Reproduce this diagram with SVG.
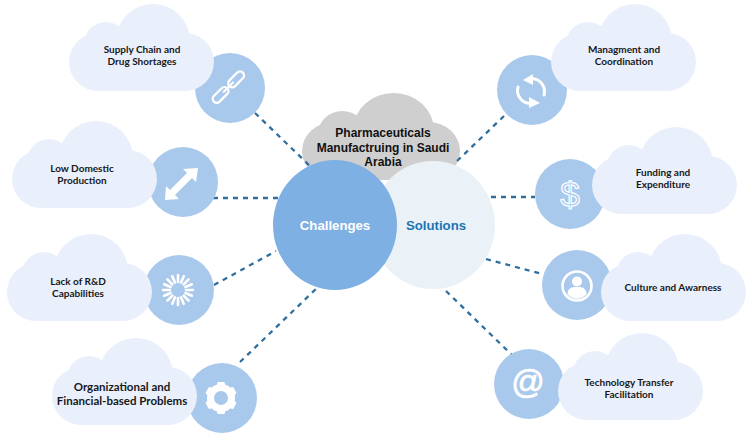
<svg xmlns="http://www.w3.org/2000/svg" width="753" height="443" viewBox="0 0 753 443">
<style>
.bg{fill:#ffffff}
.cloud{fill:#e9f0fb}
.disc{fill:#a9c9ec}
.lbl{font-family:"Lato","Liberation Sans",sans-serif;font-weight:700;font-size:10px;fill:#17181a;text-anchor:middle}
.big{font-size:11.5px}
.head{font-family:"Liberation Sans",Arial,sans-serif;font-weight:700;text-anchor:middle}
.ln{stroke:#2f6f9f;stroke-width:2.3;stroke-dasharray:5 5;fill:none}
.ic{fill:none;stroke:#ffffff;stroke-linecap:round;stroke-linejoin:round}
.icf{fill:#ffffff;stroke:none}
</style>
<defs>
<g id="cl">
<circle cx="84" cy="37" r="37"/>
<circle cx="37" cy="40" r="22"/>
<circle cx="29" cy="58" r="29"/>
<circle cx="116" cy="58" r="29"/>
<rect x="29" y="35" width="87" height="52"/>
</g>
</defs>
<rect class="bg" width="753" height="443"/>

<g id="node-title">
<use href="#cl" style="fill:#cfcfcf" transform="translate(302,93) scale(1.09,1)"/>
<text class="head" font-size="12" fill="#111" x="383" y="137">Pharmaceuticals</text>
<text class="head" font-size="12" fill="#111" x="383" y="152">Manufactruing in Saudi</text>
<text class="head" font-size="12" fill="#111" x="383" y="166">Arabia</text>
</g>

<g id="connectors">
<line class="ln" x1="255" y1="113" x2="311" y2="167"/>
<line class="ln" x1="213" y1="198" x2="278" y2="198"/>
<line class="ln" x1="214" y1="285" x2="276" y2="251"/>
<line class="ln" x1="240" y1="362" x2="318" y2="287"/>
<line class="ln" x1="504" y1="116" x2="456" y2="162"/>
<line class="ln" x1="491" y1="197" x2="535" y2="197"/>
<line class="ln" x1="486" y1="259" x2="542" y2="274"/>
<line class="ln" x1="446" y1="291" x2="513" y2="356"/>
</g>

<g id="node-solutions">
<ellipse cx="433" cy="225" rx="62" ry="64" fill="#ebf2f7"/>
<text class="head" font-size="13.2" fill="#1c74b4" x="436" y="230">Solutions</text>
</g>
<g id="node-challenges">
<ellipse cx="335" cy="225" rx="62" ry="65" fill="#7fb0e3"/>
<text class="head" font-size="13.2" fill="#ffffff" x="335" y="230">Challenges</text>
</g>

<g id="node-supply">
<circle class="disc" cx="230" cy="88" r="35"/>
<use href="#cl" class="cloud" x="69" y="4"/>
<g transform="translate(228,87.5) rotate(-45)" class="ic" stroke-width="2.3">
<rect x="-20" y="-4" width="19" height="8" rx="4"/>
<rect x="2" y="-4" width="19" height="8" rx="4"/>
<line x1="-6" y1="0" x2="7" y2="0"/>
</g>
<text class="lbl" x="142" y="53">Supply Chain and</text>
<text class="lbl" x="142" y="65">Drug Shortages</text>
</g>

<g id="node-low">
<circle class="disc" cx="183" cy="182" r="35"/>
<use href="#cl" class="cloud" x="12" y="121"/>
<path class="icf" d="M198 168 L196 182 L192 178 L175 195 L179 199 L165 200 L166 186 L170 190 L187 173 L183 169 Z"/>
<text class="lbl" x="82" y="172">Low Domestic</text>
<text class="lbl" x="82" y="184">Production</text>
</g>

<g id="node-lack">
<circle class="disc" cx="179" cy="290" r="35"/>
<use href="#cl" class="cloud" x="7" y="234"/>
<g class="ic" stroke-width="2.6" transform="translate(178,290)">
<line x1="0" y1="-8" x2="0" y2="-15"/>
<line x1="0" y1="-8" x2="0" y2="-15" transform="rotate(22.5)"/>
<line x1="0" y1="-8" x2="0" y2="-15" transform="rotate(45)"/>
<line x1="0" y1="-8" x2="0" y2="-15" transform="rotate(67.5)"/>
<line x1="0" y1="-8" x2="0" y2="-15" transform="rotate(90)"/>
<line x1="0" y1="-8" x2="0" y2="-15" transform="rotate(112.5)"/>
<line x1="0" y1="-8" x2="0" y2="-15" transform="rotate(135)"/>
<line x1="0" y1="-8" x2="0" y2="-15" transform="rotate(157.5)"/>
<line x1="0" y1="-8" x2="0" y2="-15" transform="rotate(180)"/>
<line x1="0" y1="-8" x2="0" y2="-15" transform="rotate(202.5)"/>
<line x1="0" y1="-8" x2="0" y2="-15" transform="rotate(225)"/>
<line x1="0" y1="-8" x2="0" y2="-15" transform="rotate(247.5)"/>
<line x1="0" y1="-8" x2="0" y2="-15" transform="rotate(270)"/>
<line x1="0" y1="-8" x2="0" y2="-15" transform="rotate(292.5)"/>
<line x1="0" y1="-8" x2="0" y2="-15" transform="rotate(315)"/>
<line x1="0" y1="-8" x2="0" y2="-15" transform="rotate(337.5)"/>
</g>
<text class="lbl" x="78" y="285">Lack of R&amp;D</text>
<text class="lbl" x="78" y="297">Capabilities</text>
</g>

<g id="node-org">
<circle class="disc" cx="222" cy="398" r="35"/>
<use href="#cl" class="cloud" x="52" y="338"/>
<g transform="translate(221,398)">
<circle r="10.5" fill="none" stroke="#ffffff" stroke-width="7"/>
<g class="icf">
<rect x="-4" y="-16" width="8" height="7" rx="1.5"/>
<rect x="-4" y="-16" width="8" height="7" rx="1.5" transform="rotate(60)"/>
<rect x="-4" y="-16" width="8" height="7" rx="1.5" transform="rotate(120)"/>
<rect x="-4" y="-16" width="8" height="7" rx="1.5" transform="rotate(180)"/>
<rect x="-4" y="-16" width="8" height="7" rx="1.5" transform="rotate(240)"/>
<rect x="-4" y="-16" width="8" height="7" rx="1.5" transform="rotate(300)"/>
</g>
</g>
<text class="lbl big" x="122" y="391">Organizational and</text>
<text class="lbl big" x="122" y="405">Financial-based Problems</text>
</g>

<g id="node-mgmt">
<circle class="disc" cx="532" cy="90" r="35"/>
<use href="#cl" class="cloud" x="551" y="4"/>
<g transform="translate(531,91)">
<path class="ic" stroke-width="3" stroke-linecap="butt" d="M1 -12.5 A13 13 0 0 1 13 4 M-1 12.5 A13 13 0 0 1 -13 -4"/>
<path class="icf" d="M2 -17 L2 -6 L-8 -11 Z M-2 17 L-2 6 L9 12 Z"/>
</g>
<text class="lbl" x="624" y="53">Managment and</text>
<text class="lbl" x="624" y="65">Coordination</text>
</g>

<g id="node-funding">
<circle class="disc" cx="570" cy="194" r="35"/>
<use href="#cl" class="cloud" x="592" y="127"/>
<text x="570" y="207" font-family="'Liberation Sans',Arial,sans-serif" font-size="35" text-anchor="middle" fill="#a9c9ec" stroke="#ffffff" stroke-width="1.2">$</text>
<text class="lbl" x="663" y="176">Funding and</text>
<text class="lbl" x="663" y="188">Expenditure</text>
</g>

<g id="node-culture">
<circle class="disc" cx="577" cy="285" r="35"/>
<use href="#cl" class="cloud" x="601" y="234"/>
<g transform="translate(577,286)">
<circle r="14.5" fill="none" stroke="#ffffff" stroke-width="2.6"/>
<circle cy="-4.5" r="5" fill="#ffffff"/>
<path class="icf" d="M-9.5 8 C-9.5 3 -6 1.5 -3 1 L3 1 C6 1.5 9.5 3 9.5 8 A12 12 0 0 1 -9.5 8 Z"/>
</g>
<text class="lbl" x="673" y="291">Culture and Awarness</text>
</g>

<g id="node-tech">
<circle class="disc" cx="529" cy="384" r="35"/>
<use href="#cl" class="cloud" x="558" y="333"/>
<text x="528" y="393" font-family="'Liberation Sans',Arial,sans-serif" font-size="33" text-anchor="middle" fill="#ffffff" stroke="#ffffff" stroke-width="0.7">@</text>
<text class="lbl" x="629" y="386">Technology Transfer</text>
<text class="lbl" x="629" y="398">Facilitation</text>
</g>
</svg>
